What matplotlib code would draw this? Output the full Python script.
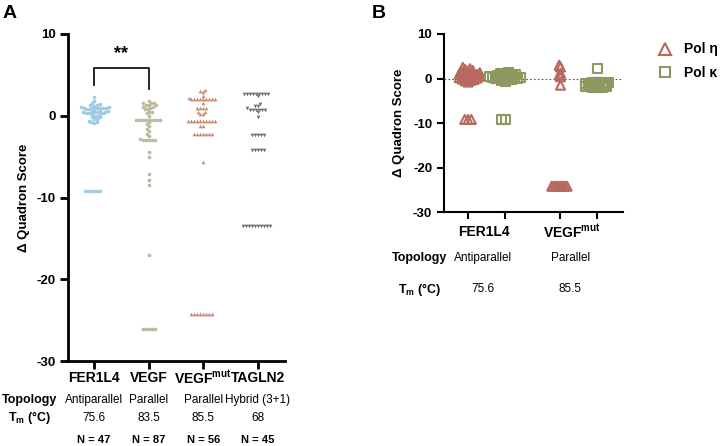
import numpy as np
import matplotlib
matplotlib.use("Agg")
import matplotlib.pyplot as plt
from matplotlib.transforms import blended_transform_factory
from matplotlib.lines import Line2D

plt.rcParams['font.family'] = ['Liberation Sans', 'DejaVu Sans']
plt.rcParams['mathtext.fontset'] = 'custom'
plt.rcParams['mathtext.rm'] = 'Liberation Sans'
plt.rcParams['mathtext.bf'] = 'Liberation Sans:bold'
plt.rcParams['axes.unicode_minus'] = False

# ---- panel A data ----
groups_a = ['FER1L4', 'VEGF', r'$\mathbf{VEGF}^{\mathbf{mut}}$', 'TAGLN2']
topology_a = ['Antiparallel', 'Parallel', 'Parallel', 'Hybrid (3+1)']
tm_a = ['75.6', '83.5', '85.5', '68']
n_a = ['N = 47', 'N = 87', 'N = 56', 'N = 45']

fer1l4 = [2.3, 1.8, 1.5, 1.4, 1.3, 1.3, 1.2, 1.1, 1.1, 1.0, 1.0, 1.0, 1.0, 1.0,
          0.9, 0.8, 0.8, 0.8, 0.6, 0.6, 0.6, 0.5, 0.5, 0.5, 0.4, 0.3, 0.3, 0.3,
          0.2, 0.2, 0.0, 0.0, -0.2, -0.2, -0.4, -0.4, -0.6, -0.8, -0.8, -0.9,
          -9.2, -9.2, -9.2, -9.2, -9.2, -9.2]
vegf = [1.8, 1.6, 1.5, 1.5, 1.3, 1.3, 1.3, 1.1, 1.1, 1.0, 0.8, 0.8, 0.5, 0.5,
        0.3, 0.0, -0.5, -0.5, -0.5, -0.5, -0.5, -0.5, -0.5, -0.5, -0.5,
        -0.8, -1.0, -1.3, -1.6, -1.9, -2.2, -2.5, -2.8, -3.0, -3.0, -3.0,
        -3.0, -3.0, -4.4, -5.0, -7.1, -7.8, -8.5, -17.0,
        -26.1, -26.1, -26.1, -26.1, -26.1]
vegf_mut = [3.2, 3.0, 2.9, 2.4, 2.2, 2.0, 2.0, 2.0, 2.0, 2.0, 2.0, 2.0, 2.0,
            2.0, 1.6, 1.0, 1.0, 1.0, 1.0, 0.5, 0.5, 0.2, 0.2,
            -0.7, -0.7, -0.7, -0.7, -0.7, -0.7, -0.7, -0.7, -0.7, -0.7,
            -1.2, -1.2, -2.2, -2.2, -2.2, -2.2, -2.2, -2.2, -2.2, -5.6,
            -24.2, -24.2, -24.2, -24.2, -24.2, -24.2, -24.2, -24.2]
tagln2 = [2.7] * 9 + [2.4, 1.4, 1.2, 1.2, 0.9] + [0.7] * 6 + [0.4, -0.2] + \
         [-2.4] * 5 + [-4.2] * 5 + [-13.5] * 10

# ---- panel B data ----
groups_b = ['FER1L4', r'$\mathbf{VEGF}^{\mathbf{mut}}$']
topology_b = ['Antiparallel', 'Parallel']
tm_b = ['75.6', '85.5']
pol_eta_fer = [2.5, 2.2, 2.0, 1.8, 1.6, 1.5, 1.3, 1.2, 1.1, 1.0, 0.9, 0.8, 0.7,
               0.6, 0.5, 0.4, 0.3, 0.2, 0.1, 0.0, -0.1, -0.2, -0.4, -0.5,
               -0.8, -9.2, -9.2, -9.2]
pol_kappa_fer = [1.3, 1.1, 1.0, 0.8, 0.7, 0.6, 0.5, 0.4, 0.4, 0.3, 0.2, 0.2,
                 0.1, 0.0, 0.0, -0.1, -0.2, -0.3, -0.4, -0.6, -9.2, -9.2]
pol_eta_mut = [3.0, 2.6, 1.2, 0.8, 0.4, -1.5] + [-24.2] * 8
pol_kappa_mut = [2.3] + [-0.8] * 6 + [-1.1] * 5 + [-1.4] * 5 + [-1.7] * 5 + \
                [-2.0] * 5

col_a = ['#9dcbe4', '#bdbb9f', '#c8866b', '#6e6e6e']
mk_a = ['o', 'o', '^', 'v']
col_eta = '#b8685c'
col_kappa = '#8c9a62'


def swarm(values, sx, sy, d):
    """x offsets (data units) so points sit at least d px apart"""
    values = np.asarray(values, float)
    offs = np.zeros(len(values))
    placed = []
    for i in np.argsort(values, kind='stable'):
        y = values[i] * sy
        cands = [0.0]
        for px, py in placed:
            dy = abs(py - y)
            if dy < d:
                w = np.sqrt(d * d - dy * dy)
                cands += [px - w, px + w]
        cands.sort(key=abs)
        for c in cands:
            if all((c - px) ** 2 + (y - py) ** 2 >= d * d - 1e-6 for px, py in placed):
                offs[i] = c
                placed.append((c, y))
                break
    return offs / sx


W, H = 720, 446
fig = plt.figure(figsize=(7.2, 4.46), dpi=100)

# ---------- panel A ----------
axa = fig.add_axes([68 / W, (H - 361) / H, 217 / W, 327 / H])
xlim_a = (-0.48, 3.5)
axa.set_xlim(*xlim_a)
axa.set_ylim(-30, 10)
sx_a = 217 / (xlim_a[1] - xlim_a[0])
sy_a = 327 / 40
for i, vals in enumerate([fer1l4, vegf, vegf_mut, tagln2]):
    off = swarm(vals, sx_a, sy_a, 3.0)
    axa.scatter(i + off, vals, s=7, marker=mk_a[i], color=col_a[i],
                linewidths=0, clip_on=False, zorder=3)

for s in ['top', 'right']:
    axa.spines[s].set_visible(False)
for s in ['left', 'bottom']:
    axa.spines[s].set_linewidth(2.0)
axa.set_yticks([10, 0, -10, -20, -30])
axa.set_xticks(range(4))
axa.set_xticklabels([])
axa.tick_params(width=2.0, length=5.5, labelsize=9.5)
for t in axa.get_yticklabels():
    t.set_fontweight('bold')
axa.set_ylabel('Δ Quadron Score', fontsize=9.5, fontweight='bold')
axa.yaxis.set_label_coords(-0.175, 0.5)

# significance bracket
axa.plot([0, 0, 1, 1], [3.8, 5.9, 5.9, 3.3], color='black', lw=1.2,
         clip_on=False)
axa.text(0.5, 6.6, '**', ha='center', va='bottom', fontsize=13,
         fontweight='bold')

tra = blended_transform_factory(axa.transData, axa.transAxes)
for i in range(4):
    axa.text(i, (361 - 378) / 327, groups_a[i], transform=tra, ha='center',
             va='center', fontsize=10, fontweight='bold')
    axa.text(i, (361 - 400) / 327, topology_a[i], transform=tra, ha='center',
             va='center', fontsize=8.5)
    axa.text(i, (361 - 418) / 327, tm_a[i], transform=tra, ha='center',
             va='center', fontsize=8.5)
    axa.text(i, (361 - 440) / 327, n_a[i], transform=tra, ha='center',
             va='center', fontsize=8, fontweight='bold')
axa.text(-1.18, (361 - 400) / 327, 'Topology', transform=tra, ha='center',
         va='center', fontsize=9, fontweight='bold')
axa.text(-1.18, (361 - 418) / 327, r'$\mathbf{T}_{\mathbf{m}}$ (°C)', transform=tra,
         ha='center', va='center', fontsize=9, fontweight='bold')

# ---------- panel B ----------
axb = fig.add_axes([444 / W, (H - 212) / H, 179 / W, 178 / H])
xlim_b = (-0.65, 4.19)
axb.set_xlim(*xlim_b)
axb.set_ylim(-30, 10)
sx_b = 179 / (xlim_b[1] - xlim_b[0])
sy_b = 178 / 40
pos_b = [0, 1, 2.5, 3.5]
series_b = [(pol_eta_fer, '^', col_eta, 3.3), (pol_kappa_fer, 's', col_kappa, 3.3),
            (pol_eta_mut, '^', col_eta, 2.2), (pol_kappa_mut, 's', col_kappa, 2.4)]
for p, (vals, m, c, d) in zip(pos_b, series_b):
    off = swarm(vals, sx_b, sy_b, d)
    axb.scatter(p + off, vals, s=42, marker=m, facecolors='none',
                edgecolors=c, linewidths=1.5, clip_on=False, zorder=3)
axb.axhline(0, color='#555555', lw=0.8, ls=(0, (1.5, 2)), zorder=1)

for s in ['top', 'right']:
    axb.spines[s].set_visible(False)
for s in ['left', 'bottom']:
    axb.spines[s].set_linewidth(1.5)
axb.set_yticks([10, 0, -10, -20, -30])
axb.set_xticks(pos_b)
axb.set_xticklabels([])
axb.tick_params(width=1.5, length=5, labelsize=9.5)
for t in axb.get_yticklabels():
    t.set_fontweight('bold')
axb.set_ylabel('Δ Quadron Score', fontsize=9.5, fontweight='bold')
axb.yaxis.set_label_coords(-0.218, 0.5)

trb = blended_transform_factory(axb.transData, axb.transAxes)
for x, g in zip([0.43, 2.81], groups_b):
    axb.text(x, (212 - 232) / 178, g, transform=trb, ha='center',
             va='center', fontsize=10, fontweight='bold')
for x, tp, tm in zip([0.41, 2.76], topology_b, tm_b):
    axb.text(x, (212 - 258) / 178, tp, transform=trb, ha='center',
             va='center', fontsize=8.5)
    axb.text(x, (212 - 289) / 178, tm, transform=trb, ha='center',
             va='center', fontsize=8.5)
axb.text(-1.32, (212 - 258) / 178, 'Topology', transform=trb, ha='center',
         va='center', fontsize=9, fontweight='bold')
axb.text(-1.32, (212 - 289) / 178, r'$\mathbf{T}_{\mathbf{m}}$ (°C)', transform=trb,
         ha='center', va='center', fontsize=9, fontweight='bold')

handles = [Line2D([], [], ls='none', marker='^', ms=8, mfc='none', mec=col_eta,
                  mew=1.5, label='Pol η'),
           Line2D([], [], ls='none', marker='s', ms=7, mfc='none', mec=col_kappa,
                  mew=1.5, label='Pol κ')]
fig.legend(handles=handles, loc='upper left', bbox_to_anchor=(646 / W, 1 - 30 / H),
           frameon=False, handletextpad=0.8, labelspacing=0.7,
           prop={'weight': 'bold', 'size': 10}, handlelength=1.0)

fig.text(3 / W, 1 - 5 / H, 'A', fontsize=14, fontweight='bold', va='top')
fig.text(372 / W, 1 - 5 / H, 'B', fontsize=14, fontweight='bold', va='top')

fig.savefig('out.png', dpi=100)
